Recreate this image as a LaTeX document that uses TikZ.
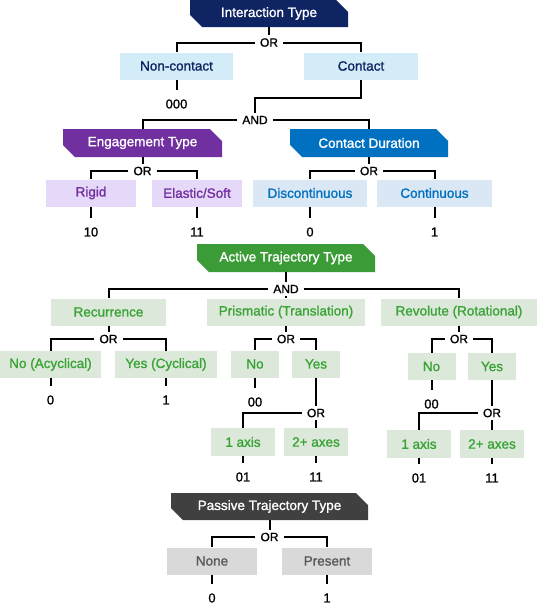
\documentclass[tikz,border=0pt]{standalone}
\usepackage{fontspec}
\setmainfont{Liberation Sans}[FakeBold=1.2]
\usetikzlibrary{positioning, calc}

\definecolor{navyhd}{HTML}{0F2563}
\definecolor{navyfill}{HTML}{D3ECF8}
\definecolor{purphd}{HTML}{7030A0}
\definecolor{purpfill}{HTML}{E6D8F8}
\definecolor{bluehd}{HTML}{0070C0}
\definecolor{bluefill}{HTML}{DAE7F5}
\definecolor{greenhd}{HTML}{3A9B37}
\definecolor{greenfill}{HTML}{DCE8DA}
\definecolor{greentxt}{HTML}{3AA336}
\definecolor{grayhd}{HTML}{404040}
\definecolor{grayfill}{HTML}{D9D9D9}
\definecolor{graytxt}{HTML}{595959}

\begin{document}
\begin{tikzpicture}[x=1pt, y=-1pt,
  hdr/.style={minimum height=28pt, inner sep=0pt, text=white,
    font=\fontsize{13.5}{16}\selectfont,
    path picture={\fill[#1] (path picture bounding box.north west)
      -- ([xshift=-12pt]path picture bounding box.north east)
      -- ([yshift=-12pt]path picture bounding box.north east)
      -- (path picture bounding box.south east)
      -- ([xshift=12pt]path picture bounding box.south west)
      -- ([yshift=12pt]path picture bounding box.south west) -- cycle;}},
  opt/.style 2 args={fill=#1, text=#2, minimum height=27pt, inner sep=0pt,
    font=\fontsize{13.5}{16}\selectfont},
  gate/.style={fill=white, inner xsep=5pt, inner ysep=3pt,
    font=\fontsize{12}{14}\selectfont},
  val/.style={inner xsep=0pt, inner ysep=9pt, font=\fontsize{13}{15}\selectfont},
  wire/.style={line width=2pt}]
\useasboundingbox (0,0) rectangle (538,608);

% Interaction type
\node[hdr=navyhd, minimum width=158pt, minimum height=27pt] (intType) at (269,13.5) {Interaction Type};
\node[gate] (orInt) at (269,42.5) {OR};
\node[opt={navyfill}{navyhd}, minimum width=113pt] (nonContact) at (176.5,66) {Non-contact};
\node[opt={navyfill}{navyhd}, minimum width=114pt] (contact) at (361,66) {Contact};
\node[val] (v000) at (176.5,104) {000};
\node[gate] (andCt) at (255,120) {AND};
\draw[wire] (intType.south) -- (orInt.north);
\draw[wire] (orInt.west) -| (nonContact.north);
\draw[wire] (orInt.east) -| (contact.north);
\draw[wire] (nonContact.south) -- (v000.north);
\draw[wire] (contact.south) -- ++(0,18) -| (andCt.north);

% Engagement type
\node[hdr=purphd, minimum width=159pt] (engType) at (142.5,143) {Engagement Type};
\node[gate] (orEng) at (142.5,171) {OR};
\node[opt={purpfill}{purphd}, minimum width=90pt] (rigid) at (91,193) {Rigid};
\node[opt={purpfill}{purphd}, minimum width=90pt] (elastic) at (197,193) {Elastic/Soft};
\node[val] (v10) at (91,232) {10};
\node[val] (v11) at (197,232) {11};
\draw[wire] (andCt.west) -| (engType.north);
\draw[wire] (engType.south) -- (orEng.north);
\draw[wire] (orEng.west) -| (rigid.north);
\draw[wire] (orEng.east) -| (elastic.north);
\draw[wire] (rigid.south) -- (v10.north);
\draw[wire] (elastic.south) -- (v11.north);

% Contact duration
\node[hdr=bluehd, minimum width=158pt] (durType) at (369,143) {Contact Duration};
\node[gate] (orDur) at (369,171) {OR};
\node[opt={bluefill}{bluehd}, minimum width=114pt] (discont) at (310,193) {Discontinuous};
\node[opt={bluefill}{bluehd}, minimum width=115pt] (cont) at (434.5,193) {Continuous};
\node[val] (vDis) at (310,232) {0};
\node[val] (vCon) at (434.5,232) {1};
\draw[wire] (andCt.east) -| (durType.north);
\draw[wire] (durType.south) -- (orDur.north);
\draw[wire] (orDur.west) -| (discont.north);
\draw[wire] (orDur.east) -| (cont.north);
\draw[wire] (discont.south) -- (vDis.north);
\draw[wire] (cont.south) -- (vCon.north);

% Active trajectory type
\node[hdr=greenhd, minimum width=178pt] (actType) at (286,258) {Active Trajectory Type};
\node[gate] (andAct) at (286,289) {AND};
\node[opt={greenfill}{greentxt}, minimum width=115pt] (recur) at (108.5,312) {Recurrence};
\node[opt={greenfill}{greentxt}, minimum width=158pt] (prism) at (286,312) {Prismatic (Translation)};
\node[opt={greenfill}{greentxt}, minimum width=156pt] (revol) at (459,312) {Revolute (Rotational)};
\draw[wire] (actType.south) -- (andAct.north);
\draw[wire] (andAct.west) -| (recur.north);
\draw[wire] (andAct.east) -| (revol.north);
\draw[wire] (andAct.south) -- (prism.north);

% Recurrence
\node[gate] (orRec) at (108.5,339) {OR};
\node[opt={greenfill}{greentxt}, minimum width=101pt] (acyc) at (50.5,364.5) {No (Acyclical)};
\node[opt={greenfill}{greentxt}, minimum width=102pt] (cyc) at (166,364.5) {Yes (Cyclical)};
\node[val] (vAcy) at (50.5,400) {0};
\node[val] (vCyc) at (166,400) {1};
\draw[wire] (recur.south) -- (orRec.north);
\draw[wire] (orRec.west) -| (acyc.north);
\draw[wire] (orRec.east) -| (cyc.north);
\draw[wire] (acyc.south) -- (vAcy.north);
\draw[wire] (cyc.south) -- (vCyc.north);

% Prismatic
\node[gate] (orPri) at (286,339) {OR};
\node[opt={greenfill}{greentxt}, minimum width=48pt] (prNo) at (255,364) {No};
\node[opt={greenfill}{greentxt}, minimum width=48pt] (prYes) at (316,364) {Yes};
\node[val] (vPrNo) at (255,402) {00};
\node[gate] (orPriY) at (316,413) {OR};
\node[opt={greenfill}{greentxt}, minimum width=64pt, minimum height=28pt] (prAx1) at (243,442) {1 axis};
\node[opt={greenfill}{greentxt}, minimum width=64pt, minimum height=28pt] (prAx2) at (316,442) {2+ axes};
\node[val] (vPr1) at (243,477) {01};
\node[val] (vPr2) at (316,477) {11};
\draw[wire] (prism.south) -- (orPri.north);
\draw[wire] (orPri.west) -| (prNo.north);
\draw[wire] (orPri.east) -| (prYes.north);
\draw[wire] (prNo.south) -- (vPrNo.north);
\draw[wire] (prYes.south) -- (orPriY.north);
\draw[wire] (orPriY.west) -| (prAx1.north);
\draw[wire] (orPriY.south) -- (prAx2.north);
\draw[wire] (prAx1.south) -- (vPr1.north);
\draw[wire] (prAx2.south) -- (vPr2.north);

% Revolute
\node[gate] (orRev) at (459,339) {OR};
\node[opt={greenfill}{greentxt}, minimum width=48pt] (rvNo) at (431.5,366.5) {No};
\node[opt={greenfill}{greentxt}, minimum width=48pt] (rvYes) at (492,366.5) {Yes};
\node[val] (vRvNo) at (431.5,404) {00};
\node[gate] (orRevY) at (492,413) {OR};
\node[opt={greenfill}{greentxt}, minimum width=64pt, minimum height=28pt] (rvAx1) at (419,444) {1 axis};
\node[opt={greenfill}{greentxt}, minimum width=64pt, minimum height=28pt] (rvAx2) at (492,444) {2+ axes};
\node[val] (vRv1) at (419,478) {01};
\node[val] (vRv2) at (492,478) {11};
\draw[wire] (revol.south) -- (orRev.north);
\draw[wire] (orRev.west) -| (rvNo.north);
\draw[wire] (orRev.east) -| (rvYes.north);
\draw[wire] (rvNo.south) -- (vRvNo.north);
\draw[wire] (rvYes.south) -- (orRevY.north);
\draw[wire] (orRevY.west) -| (rvAx1.north);
\draw[wire] (orRevY.south) -- (rvAx2.north);
\draw[wire] (rvAx1.south) -- (vRv1.north);
\draw[wire] (rvAx2.south) -- (vRv2.north);

% Passive trajectory type
\node[hdr=grayhd, minimum width=197pt, minimum height=27pt] (pasType) at (269.5,506.5) {Passive Trajectory Type};
\node[gate] (orPas) at (269.5,537) {OR};
\node[opt={grayfill}{graytxt}, minimum width=90pt] (none) at (212,561) {None};
\node[opt={grayfill}{graytxt}, minimum width=90pt] (present) at (327,561) {Present};
\node[val] (vNone) at (212,598) {0};
\node[val] (vPres) at (327,598) {1};
\draw[wire] (pasType.south) -- (orPas.north);
\draw[wire] (orPas.west) -| (none.north);
\draw[wire] (orPas.east) -| (present.north);
\draw[wire] (none.south) -- (vNone.north);
\draw[wire] (present.south) -- (vPres.north);
\end{tikzpicture}
\end{document}
